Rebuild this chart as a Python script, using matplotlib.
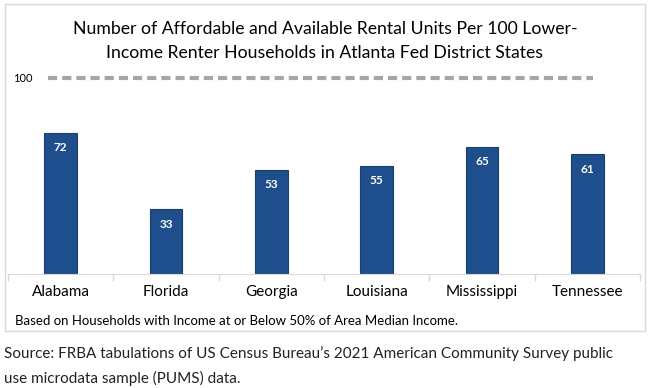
import matplotlib.pyplot as plt
from matplotlib.patches import Rectangle

states = ["Alabama", "Florida", "Georgia", "Louisiana", "Mississippi", "Tennessee"]
units = [72, 33, 53, 55, 65, 61]
benchmark = 100

plt.rcParams['font.family'] = ['Lato', 'DejaVu Sans']

fig = plt.figure(figsize=(6.5, 3.88), dpi=100)

# light frame round the chart
fig.patches.append(Rectangle((5 / 650, 57 / 388), 640 / 650, 327 / 388,
                             transform=fig.transFigure, fill=False,
                             edgecolor='#d9d9d9', linewidth=1))

ax = fig.add_axes([8 / 650, 114 / 388, 632 / 650, 214 / 388])
x = range(len(states))
bars = ax.bar(x, units, width=0.31, color='#1f4e8c', edgecolor='#17406f', linewidth=0.8)
for b, v in zip(bars, units):
    ax.text(b.get_x() + b.get_width() / 2, v - 7.5, str(v), ha='center', va='center',
            color='white', fontsize=8.5, fontweight='bold')

ax.hlines(benchmark, -0.12, 5.05, colors='#a6a6a6', linestyles=(0, (2.2, 1.2)), linewidth=3)
ax.text(-0.5 + 5 / 105, benchmark, "100", ha='left', va='center', fontsize=8)

ax.set_xlim(-0.5, 5.5)
ax.set_ylim(0, 109.2)
ax.set_yticks([])
ax.set_xticks([i - 0.5 for i in range(len(states) + 1)], minor=False)
ax.set_xticklabels([])
ax.tick_params(axis='x', length=5, color='#d9d9d9', width=1)
ax.set_xticks(list(x), minor=True)
ax.set_xticklabels(states, minor=True, fontsize=11)
ax.tick_params(axis='x', which='minor', length=0, pad=8)
for s in ['top', 'right', 'left']:
    ax.spines[s].set_visible(False)
ax.spines['bottom'].set_color('#d9d9d9')

fig.text(0.5, 1 - 29 / 388, "Number of Affordable and Available Rental Units Per 100 Lower-",
         ha='center', va='center', fontsize=12.7)
fig.text(0.5, 1 - 53 / 388, "Income Renter Households in Atlanta Fed District States",
         ha='center', va='center', fontsize=12.7)
fig.text(15 / 650, 1 - 321 / 388, "Based on Households with Income at or Below 50% of Area Median Income.",
         ha='left', va='center', fontsize=9.5)
fig.text(4 / 650, 1 - 354 / 388,
         "Source: FRBA tabulations of US Census Bureau\u2019s 2021 American Community Survey public",
         ha='left', va='center', fontsize=11, color='#222222')
fig.text(4 / 650, 1 - 378 / 388, "use microdata sample (PUMS) data.",
         ha='left', va='center', fontsize=11, color='#222222')

fig.savefig("out.png", dpi=100)
